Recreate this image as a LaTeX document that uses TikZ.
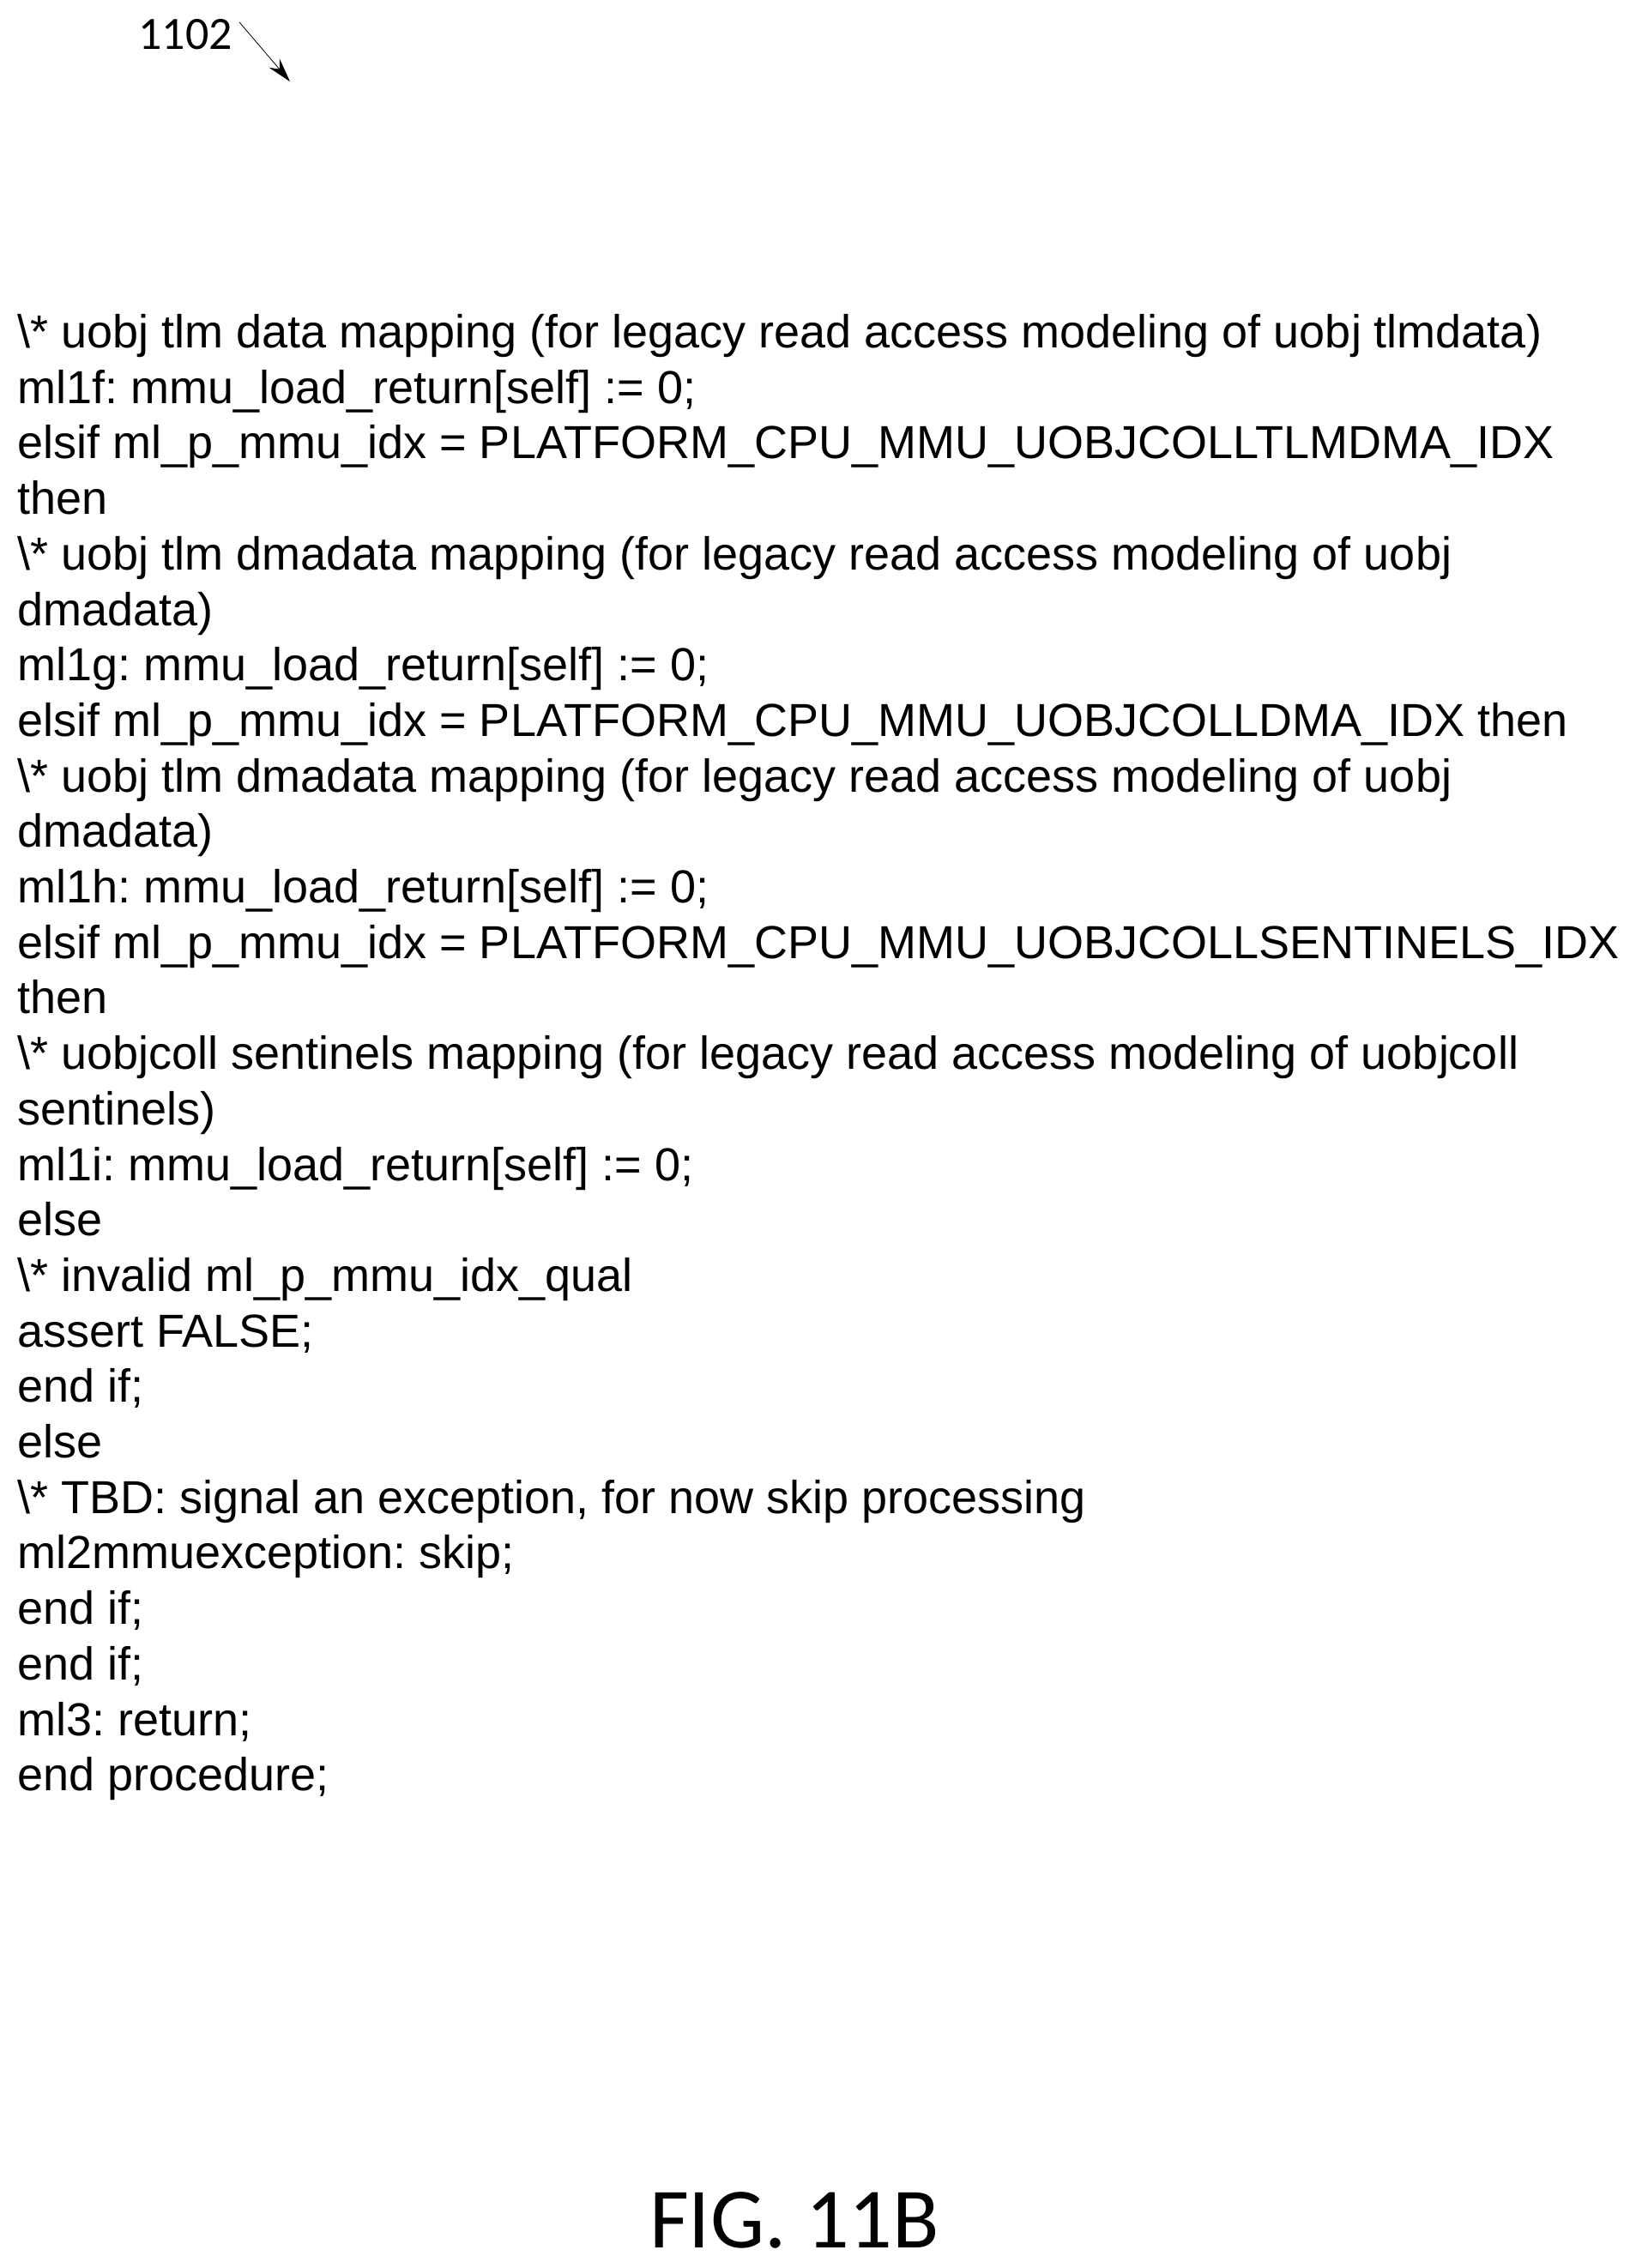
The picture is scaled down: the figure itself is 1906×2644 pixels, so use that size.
\documentclass[tikz,border=0pt]{standalone}
\usepackage{fontspec}
\setmainfont{Liberation Sans}
\newfontfamily\figfont{Carlito}
\frenchspacing
\usetikzlibrary{arrows.meta}
\begin{document}
\begin{tikzpicture}[x=0.5pt,y=-0.5pt,
    codetext/.style={align=left,inner sep=0pt,font=\fontsize{27}{32.35}\selectfont},
    reftext/.style={inner sep=0pt,font=\figfont\fontsize{27}{31}\selectfont}]
    \useasboundingbox (0,0) rectangle (1906,2644);
    \node (ref)[reftext] at (216,40) {1102};
    \coordinate (tip) at (338,95);
    \draw[-{Stealth[length=14pt,width=8pt]},thin] (ref.east) ++(8,-14) -- (tip);
    \node (code)[codetext,anchor=north west] at (20,366) {%
\textbackslash* uobj tlm data mapping (for legacy read access modeling of uobj tlmdata)\\
ml1f: mmu\_load\_return[self] := 0;\\
elsif ml\_p\_mmu\_idx = PLATFORM\_CPU\_MMU\_UOBJCOLLTLMDMA\_IDX\\
then\\
\textbackslash* uobj tlm dmadata mapping (for legacy read access modeling of uobj\\
dmadata)\\
ml1g: mmu\_load\_return[self] := 0;\\
elsif ml\_p\_mmu\_idx = PLATFORM\_CPU\_MMU\_UOBJCOLLDMA\_IDX then\\
\textbackslash* uobj tlm dmadata mapping (for legacy read access modeling of uobj\\
dmadata)\\
ml1h: mmu\_load\_return[self] := 0;\\
elsif ml\_p\_mmu\_idx = PLATFORM\_CPU\_MMU\_UOBJCOLLSENTINELS\_IDX\\
then\\
\textbackslash* uobjcoll sentinels mapping (for legacy read access modeling of uobjcoll\\
sentinels)\\
ml1i: mmu\_load\_return[self] := 0;\\
else\\
\textbackslash* invalid ml\_p\_mmu\_idx\_qual\\
assert FALSE;\\
end if;\\
else\\
\textbackslash* TBD: signal an exception, for now skip processing\\
ml2mmuexception: skip;\\
end if;\\
end if;\\
ml3: return;\\
end procedure;};
    \node (fig)[inner sep=0pt,font=\figfont\fontsize{50}{60}\selectfont] at (926,2588) {FIG. 11B};
\end{tikzpicture}
\end{document}
